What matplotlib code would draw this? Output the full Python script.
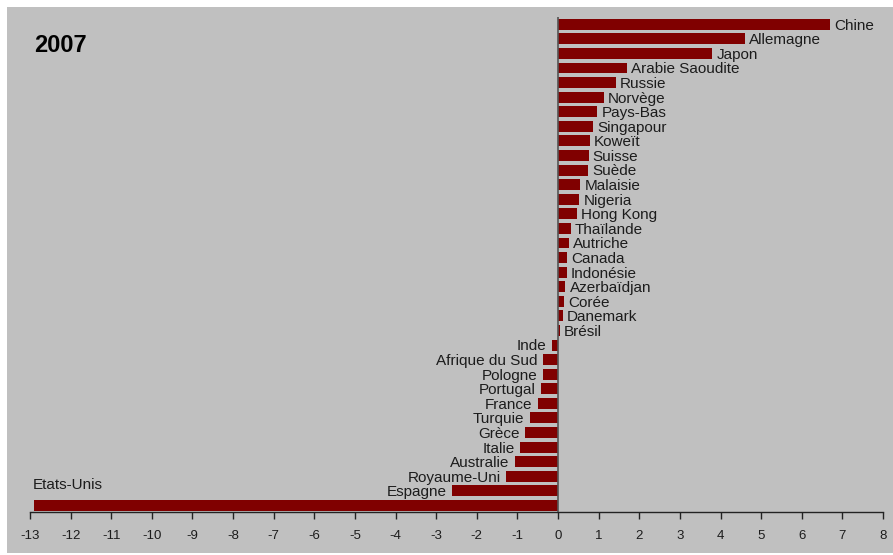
"""
Recreate the 2007 horizontal bar chart (balances by country).
"""
import matplotlib
matplotlib.use("Agg")
import matplotlib.pyplot as plt
from matplotlib import font_manager
import matplotlib.patches as mpatches

# Data, top to bottom as drawn
countries = ["Chine", "Allemagne", "Japon", "Arabie Saoudite", "Russie",
             "Norvège", "Pays-Bas", "Singapour", "Koweït", "Suisse", "Suède",
             "Malaisie", "Nigeria", "Hong Kong", "Thaïlande", "Autriche",
             "Canada", "Indonésie", "Azerbaïdjan", "Corée", "Danemark",
             "Brésil", "Inde", "Afrique du Sud", "Pologne", "Portugal",
             "France", "Turquie", "Grèce", "Italie", "Australie",
             "Royaume-Uni", "Espagne", "Etats-Unis"]
values = [6.7, 4.6, 3.8, 1.7, 1.42, 1.12, 0.97, 0.87, 0.78, 0.75, 0.74,
          0.55, 0.52, 0.47, 0.31, 0.26, 0.23, 0.21, 0.18, 0.14, 0.11,
          0.05, -0.15, -0.36, -0.36, -0.42, -0.49, -0.69, -0.81, -0.93,
          -1.06, -1.28, -2.61, -12.9]
xticks = list(range(-13, 9))
year = "2007"

BAR = "#800000"
BG = "#C0C0C0"
TXT = "#1c1c1c"

names = {f.name for f in font_manager.fontManager.ttflist}
narrow = "Liberation Sans Narrow" if "Liberation Sans Narrow" in names else "Liberation Sans"
lab_size = 12.5 if narrow == "Liberation Sans Narrow" else 11
tick_size = 11 if narrow == "Liberation Sans Narrow" else 9.5

W, H = 893, 555
fig = plt.figure(figsize=(W / 100, H / 100), dpi=100, facecolor="white")
fig.patches.append(mpatches.Rectangle((7 / W, 2 / H), 1, 1 - 9 / H,
                                      transform=fig.transFigure,
                                      facecolor=BG, edgecolor="none", zorder=-10))

ax = fig.add_axes([30 / W, 1 - 512 / H, (883 - 30) / W, (512 - 17) / H])
ax.set_facecolor(BG)
ax.patch.set_alpha(0)

n = len(countries)
ypos = [n - 1 - i for i in range(n)]
ax.barh(ypos, values, height=0.75, color=BAR, edgecolor="none", zorder=2)
ax.axvline(0, color="#555555", lw=1.2, zorder=3)

for y, v, name in zip(ypos, values, countries):
    if name == "Etats-Unis":
        ax.annotate(name, xy=(v, y), xytext=(-1, 15), textcoords="offset points",
                    ha="left", va="center", fontsize=lab_size, color=TXT,
                    family=narrow)
    elif v >= 0:
        ax.annotate(name, xy=(v, y), xytext=(3, -1), textcoords="offset points",
                    ha="left", va="center", fontsize=lab_size, color=TXT,
                    family=narrow)
    else:
        ax.annotate(name, xy=(v, y), xytext=(-4, -1), textcoords="offset points",
                    ha="right", va="center", fontsize=lab_size, color=TXT,
                    family=narrow)

ax.set_xlim(-13, 8)
ax.set_ylim(-0.45, n - 0.5)
ax.set_xticks(xticks)
ax.set_xticklabels([str(t) for t in xticks], family=narrow, fontsize=tick_size,
                   color=TXT)
ax.set_yticks([])
ax.tick_params(axis="x", direction="out", length=5, width=1, color="#222222", pad=8)
for side in ["top", "right", "left"]:
    ax.spines[side].set_visible(False)
ax.spines["bottom"].set_color("#222222")
ax.spines["bottom"].set_linewidth(1)

fig.text(34 / W, 1 - 45 / H, year, fontsize=17, fontweight="bold",
         family="Liberation Sans", color="black", ha="left", va="center")

fig.savefig("out.png", dpi=100, facecolor=fig.get_facecolor())
